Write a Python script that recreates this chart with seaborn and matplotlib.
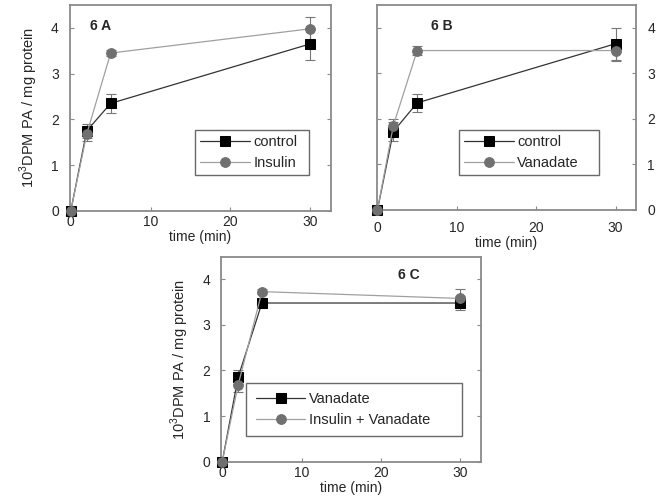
import numpy as np
import pandas as pd
import matplotlib
matplotlib.use("Agg")
import matplotlib.pyplot as plt
import seaborn as sns

time = [0, 2, 5, 30]

# Panel A
a_control = [0.0, 1.75, 2.35, 3.65]
a_control_err = [0.0, 0.15, 0.20, 0.35]
a_insulin = [0.0, 1.68, 3.45, 3.98]
a_insulin_err = [0.0, 0.15, 0.06, 0.25]

# Panel B
b_control = [0.0, 1.72, 2.35, 3.65]
b_control_err = [0.0, 0.20, 0.20, 0.35]
b_vanadate = [0.0, 1.85, 3.50, 3.50]
b_vanadate_err = [0.0, 0.15, 0.10, 0.22]

# Panel C
c_vanadate = [0.0, 1.85, 3.48, 3.48]
c_vanadate_err = [0.0, 0.15, 0.06, 0.15]
c_insvan = [0.0, 1.68, 3.73, 3.58]
c_insvan_err = [0.0, 0.15, 0.05, 0.20]

panel_labels = ["6 A", "6 B", "6 C"]
series_names = [("control", "Insulin"), ("control", "Vanadate"), ("Vanadate", "Insulin + Vanadate")]
y_ticks = [0, 1, 2, 3, 4]
x_ticks = [0, 10, 20, 30]
ylabel = "10$^{3}$DPM PA / mg protein"
xlabel = "time (min)"

sns.set_theme(style="ticks")
plt.rcParams['font.family'] = ['Liberation Sans', 'DejaVu Sans']
plt.rcParams['mathtext.fontset'] = 'custom'
plt.rcParams['mathtext.rm'] = 'Liberation Sans'

fig = plt.figure(figsize=(6.69, 5.01), dpi=100)
axA = fig.add_axes([0.1046, 0.579, 0.390, 0.411])
axB = fig.add_axes([0.563, 0.581, 0.388, 0.409])
axC = fig.add_axes([0.331, 0.0785, 0.388, 0.4095])

spine_col = "#8a8a8a"
col1_line = "#333333"
col2_line = "#a0a0a0"
col1_mark = "#000000"
col2_mark = "#707070"

panels = [
    (axA, (a_control, a_control_err), (a_insulin, a_insulin_err), series_names[0], panel_labels[0],
     (0.077, 0.90), (0.48, 0.165, 0.437, 0.235), "left", 0.35),
    (axB, (b_control, b_control_err), (b_vanadate, b_vanadate_err), series_names[1], panel_labels[1],
     (0.21, 0.90), (0.317, 0.16, 0.54, 0.24), "right", 0.35),
    (axC, (c_vanadate, c_vanadate_err), (c_insvan, c_insvan_err), series_names[2], panel_labels[2],
     (0.68, 0.91), (0.096, 0.139, 0.832, 0.232), "left", 0.65),
]

for ax, s1, s2, names, plab, plpos, legbox, yside, lpad in panels:
    df = pd.DataFrame({
        "time": time * 2,
        "value": list(s1[0]) + list(s2[0]),
        "series": [names[0]] * 4 + [names[1]] * 4,
    })
    sns.lineplot(data=df, x="time", y="value", hue="series", style="series",
                 palette={names[0]: col1_line, names[1]: col2_line},
                 markers={names[0]: "s", names[1]: "o"}, dashes=False,
                 markersize=7, linewidth=0.9, ax=ax, legend=False, zorder=3)
    for ln, mc in zip(ax.get_lines(), [col1_mark, col2_mark]):
        ln.set_markerfacecolor(mc)
        ln.set_markeredgecolor(mc)
        ln.set_clip_on(False)
    ax.errorbar(time, s1[0], yerr=s1[1], fmt="none", ecolor="#777777", elinewidth=0.8,
                capsize=3.5, capthick=0.8, zorder=2)
    ax.errorbar(time, s2[0], yerr=s2[1], fmt="none", ecolor="#777777", elinewidth=0.8,
                capsize=3.5, capthick=0.8, zorder=2)
    ax.set_xlim(-0.1, 32.6)
    ax.set_ylim(0, 4.5)
    ax.set_xticks(x_ticks)
    ax.set_yticks(y_ticks)
    ax.tick_params(direction="in", length=3, width=0.8, color=spine_col, labelsize=10,
                   right=True, left=True, top=False, bottom=True, pad=3)
    if yside == "right":
        ax.tick_params(labelleft=False, labelright=True, pad=8)
        ax.set_ylabel("")
    else:
        ax.tick_params(pad=8, axis="y")
        ax.set_ylabel(ylabel, fontsize=10.5, labelpad=8)
    ax.set_xlabel(xlabel, fontsize=10, labelpad=1)
    for sp in ax.spines.values():
        sp.set_visible(True)
        sp.set_color(spine_col)
        sp.set_linewidth(1.3)
    ax.text(plpos[0], plpos[1], plab, transform=ax.transAxes, fontsize=10,
            fontweight="bold", ha="left", va="center")
    lines = ax.get_lines()[:2]
    leg = ax.legend(lines, list(names), loc="center", bbox_to_anchor=legbox,
                    bbox_transform=ax.transAxes, mode="expand", frameon=True, fancybox=False,
                    fontsize=10.5, handlelength=3.4, handletextpad=0.25, borderpad=lpad,
                    labelspacing=0.45, borderaxespad=0)
    leg.get_frame().set_edgecolor("#444444")
    leg.get_frame().set_linewidth(1.0)

fig.savefig("out.png", dpi=100)
